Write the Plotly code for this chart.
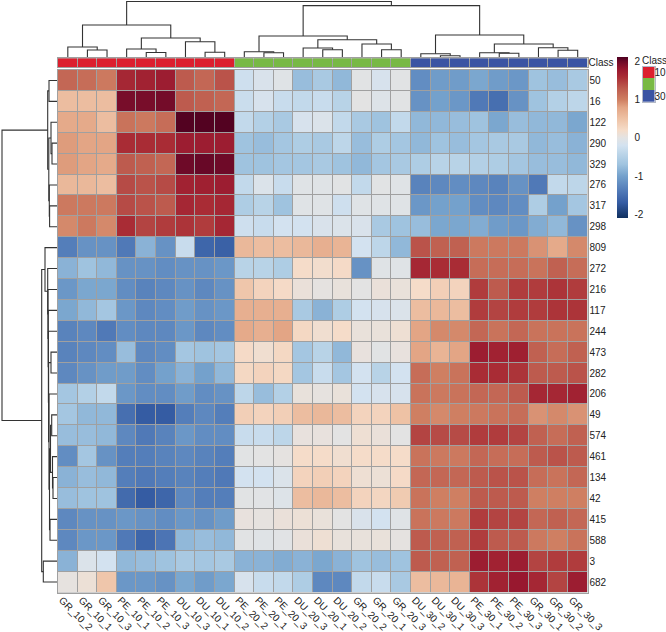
import plotly.graph_objects as go

col_labels = ["GR_10_2","GR_10_1","GR_10_3","PE_10_1","PE_10_2","PE_10_3","DU_10_3","DU_10_1","DU_10_2",
              "PE_20_2","PE_20_1","PE_20_3","DU_20_3","DU_20_1","DU_20_2","GR_20_2","GR_20_1","GR_20_3",
              "DU_30_2","DU_30_1","DU_30_3","PE_30_1","PE_30_2","PE_30_3","GR_30_1","GR_30_2","GR_30_3"]
row_labels = ["50","16","122","290","329","276","317","298","809","272","216","117","244","473","282","206",
              "49","574","461","134","42","415","588","3","682"]
class_values = [10]*9 + [20]*9 + [30]*9
legend_classes = [10, 20, 30]

row_50  = [1.2,1.15,1.05, 1.65,1.7,1.75, 1.3,1.2,1.35, -0.25,-0.12,-0.05, -0.75,-0.6,-0.8, -0.02,-0.15,-0.02, -1.2,-1.05,-1.05,-0.95,-1.05,-1.1,-0.7,-0.75,-0.6]
row_16  = [0.55,0.55,0.55, 1.95,1.95,1.97, 1.3,1.25,1.2, -0.28,-0.15,-0.3, -0.35,-0.3,-0.45, 0.0,-0.08,-0.02, -1.15,-1.0,-1.1,-1.4,-1.5,-1.15,-0.7,-0.5,-0.4]
row_122 = [0.75,0.75,0.55, 1.1,1.05,1.15, 2.1,2.1,2.1, -0.35,-0.5,-0.6, -0.15,-0.1,-0.35, -0.6,-0.7,-0.35, -0.8,-0.8,-0.75,-0.7,-0.95,-0.75,-0.8,-0.8,-0.95]
row_290 = [0.85,0.8,0.8, 1.6,1.6,1.6, 1.75,1.75,1.75, -0.7,-0.75,-0.65, -0.55,-0.6,-0.4, -0.75,-0.55,-0.65, -0.8,-0.7,-0.75,-0.65,-0.6,-0.6,-0.8,-0.75,-0.85]
row_329 = [0.85,0.8,0.75, 1.3,1.25,1.2, 2.0,2.02,2.0, -0.7,-0.7,-0.65, -0.65,-0.6,-0.7, -0.8,-0.65,-0.6, -0.55,-0.45,-0.45,-0.5,-0.55,-0.65,-0.75,-0.75,-0.8]
row_276 = [0.6,0.6,0.55, 1.4,1.35,1.4, 1.7,1.72,1.75, -0.35,-0.1,-0.3, -0.05,-0.05,-0.02, -0.35,-0.02,-0.05, -1.3,-1.25,-1.2,-1.25,-1.3,-1.15,-1.4,-0.35,-0.4]
row_317 = [1.05,1.05,1.05, 1.4,1.35,1.3, 1.65,1.6,1.65, -0.55,-0.45,-0.7, -0.05,-0.05,-0.25, -0.05,-0.05,-0.05, -1.1,-1.0,-1.0,-1.2,-1.25,-1.2,-0.55,-1.0,-0.65]
row_298 = [0.95,1.05,0.95, 1.6,1.45,1.5, 1.55,1.5,1.65, -0.25,-0.3,-0.2, -0.2,-0.12,-0.1, -0.12,-0.6,-0.7, -0.75,-0.95,-0.95,-0.9,-1.05,-1.1,-0.9,-0.8,-1.15]
row_809 = [-1.35,-1.15,-1.15, -1.4,-0.85,-1.15, -0.3,-1.6,-1.65, 0.6,0.55,0.55, 0.6,0.7,0.65, -0.2,-0.4,-0.8, 1.35,1.25,1.25,1.05,1.05,1.05,0.9,0.75,0.95]
row_272 = [-0.85,-0.7,-0.8, -1.15,-1.15,-1.2, -1.15,-1.15,-1.1, -0.45,-0.45,-0.55, 0.2,0.17,0.22, -1.15,-0.05,-0.05, 1.65,1.6,1.6,1.15,1.15,1.15,1.1,1.25,1.15]
row_216 = [-1.1,-0.95,-0.95, -1.2,-1.3,-1.25, -1.15,-1.25,-1.15, 0.45,0.3,0.22, 0.08,0.02,0.06, 0.0,0.08,0.07, 0.2,0.35,0.3,1.5,1.3,1.5,1.5,1.55,1.5]
row_117 = [-0.95,-0.8,-0.65, -1.1,-1.25,-1.2, -1.05,-1.15,-1.1, 0.7,0.7,0.7, -0.6,-0.85,-0.55, -0.2,-0.15,-0.1, 0.55,0.6,0.55,1.5,1.45,1.5,1.5,1.55,1.55]
row_244 = [-1.3,-1.25,-1.4, -1.2,-1.25,-1.25, -1.1,-1.25,-1.2, 0.75,0.7,0.8, 0.25,0.15,0.2, 0.07,0.07,0.12, 0.8,0.95,0.95,1.2,1.1,1.2,1.1,1.1,1.1]
row_473 = [-1.3,-1.25,-1.2, -0.75,-1.25,-1.2, -0.65,-0.7,-0.65, 0.22,0.15,0.25, -0.65,-0.45,-0.8, 0.05,-0.02,0.05, 0.8,0.65,0.8,1.75,1.7,1.72,1.25,1.15,1.25]
row_282 = [-1.25,-1.15,-1.05, -1.05,-1.2,-1.0, -0.85,-1.0,-0.8, 0.25,0.3,0.25, -0.65,-0.3,-0.65, -0.2,-0.45,-0.2, 1.15,1.0,1.1,1.6,1.6,1.55,1.3,1.3,1.35]
row_206 = [-0.65,-0.5,-0.35, -1.1,-1.2,-1.2, -1.05,-1.2,-1.15, -0.4,-0.75,-0.5, 0.06,0.03,0.07, -0.2,-0.15,-0.15, 1.1,1.05,1.1,1.2,1.2,1.3,1.65,1.65,1.7]
row_49  = [-0.65,-0.8,-0.8, -1.5,-1.7,-1.7, -1.35,-1.25,-1.35, 0.35,0.3,0.35, 0.55,0.6,0.55, 0.3,0.3,0.5, 1.0,0.95,1.0,1.05,1.1,1.15,0.9,0.95,0.9]
row_574 = [-0.75,-0.75,-0.8, -1.25,-1.4,-1.3, -1.1,-1.2,-1.2, -0.3,-0.3,-0.4, 0.05,0.05,0.0, 0.12,0.08,0.0, 1.45,1.4,1.4,1.5,1.5,1.45,1.25,1.15,1.25]
row_461 = [-1.2,-0.65,-1.15, -1.35,-1.35,-1.3, -1.25,-1.3,-1.35, -0.02,0.0,0.02, 0.2,0.2,0.15, 0.2,0.2,0.2, 1.1,1.05,1.05,1.2,1.15,1.15,1.3,1.35,1.3]
row_134 = [-0.85,-0.75,-0.8, -1.35,-1.4,-1.35, -1.3,-1.35,-1.4, -0.2,-0.2,-0.1, 0.3,0.35,0.3, 0.12,0.1,0.22, 1.2,1.2,1.2,1.3,1.35,1.35,1.15,1.1,1.2]
row_42  = [-0.75,-0.7,-0.7, -1.55,-1.7,-1.6, -1.25,-1.35,-1.35, -0.02,-0.03,-0.08, 0.55,0.6,0.55, 0.3,0.27,0.4, 1.1,1.0,1.0,1.3,1.3,1.3,1.0,1.0,1.0]
row_415 = [-1.25,-1.15,-1.15, -1.1,-1.15,-1.2, -1.1,-1.15,-1.05, 0.05,0.03,0.08, 0.1,0.07,0.0, -0.12,-0.2,-0.05, 1.1,1.05,1.05,1.5,1.45,1.45,1.2,1.25,1.2]
row_588 = [-1.25,-1.1,-1.1, -1.4,-1.6,-1.45, -0.8,-0.75,-0.8, -0.02,-0.05,-0.03, 0.08,0.12,0.06, 0.06,0.07,0.02, 1.3,1.25,1.25,1.5,1.3,1.3,1.05,1.0,1.1]
row_3   = [-0.85,-0.1,-0.2, -0.8,-0.75,-0.7, -0.6,-0.65,-0.6, -0.85,-0.85,-0.9, -0.85,-0.95,-0.85, -0.7,-0.75,-0.7, 1.3,1.25,1.25,1.75,1.7,1.75,1.45,1.5,1.5]
row_682 = [0.03,0.1,0.45, -1.1,-1.1,-1.15, -0.95,-1.05,-0.95, -0.15,-0.3,-0.35, -0.55,-1.25,-1.25, -0.35,-0.3,-0.6, 0.55,0.6,0.65,1.55,1.7,1.8,1.65,1.45,1.75]

matrix = [row_50,row_16,row_122,row_290,row_329,row_276,row_317,row_298,row_809,row_272,row_216,row_117,
          row_244,row_473,row_282,row_206,row_49,row_574,row_461,row_134,row_42,row_415,row_588,row_3,row_682]

# dendrograms: (merge height, left child, right child); ints are leaf positions
reds = (33, (11, 0, (8, 1, 2)),
        (20, (9, 3, (5.5, 4, 5)), (16.3, 6, (5.7, 7, 8))))
greens = (22, (6.3, 9, (5.3, 10, 11)),
          (18.3, (10, 12, (8.3, 13, 14)), (14, 15, (8.3, 16, 17))))
blues = (23, (4.3, 18, (2.3, 19, 20)),
         (14, (5.3, 21, (4.7, 22, 23)), (10.3, 24, (7.7, 25, 26))))
col_tree = (56.5, reds, (52.4, greens, blues))

top_rows = (9.3, (8, 0, 1),
            (8.2, (6, 2, (5, 3, 4)), (7.7, 5, (7.4, 6, 7))))
h_group = (6.5, (5.3, 16, 17), (4.5, 18, (4, 19, 20)))
e_group = (8, 15, (7.5, h_group, (7, 21, 22)))
d_group = (8.4, (6, 13, 14), e_group)
low_rows = (15.3,
            (12, 8, (9.3, 9, (9, 10, (8.8, 11, (8.6, 12, d_group))))),
            (13.7, 23, 24))
row_tree = (55, top_rows, low_rows)

W, H = 666, 632
TXT = "#222222"
GRID = "#a0a0a0"
FONT = "Liberation Sans"
class_scale = [[0, "#dc1f2e"], [0.5, "#78b944"], [1, "#3a53a3"]]
heat_scale_pts = [(-2.1,"#10305f"),(-1.7,"#355ca3"),(-1.4,"#5079b7"),(-1.0,"#74a1cc"),(-0.7,"#9fc3df"),
                  (-0.4,"#bdd6e9"),(-0.2,"#d3e2f0"),(0,"#e3e3e3"),(0.2,"#f5dcc9"),(0.5,"#eec2a5"),
                  (0.8,"#e3a585"),(1.0,"#cf7f62"),(1.3,"#bd5b4e"),(1.6,"#a92c35"),(1.8,"#98182f"),
                  (2.0,"#6e0a28"),(2.12,"#4d0020")]
ZMIN, ZMAX = -2.1, 2.12
heat_scale = [[(v-ZMIN)/(ZMAX-ZMIN), c] for v, c in heat_scale_pts]


def segments(node):
    """Return (position, height, pos list, height list) of a dendrogram node."""
    if isinstance(node, int):
        return node, 0, [], []
    h, a, b = node
    pa, ha, xa, ya = segments(a)
    pb, hb, xb, yb = segments(b)
    xs = xa + xb + [pa, pa, pb, pb, None]
    ys = ya + yb + [ha, h, h, hb, None]
    return (pa + pb) / 2, h, xs, ys


def dx(a, b):
    return [a / W, b / W]


def dy(top, bottom):
    return [1 - bottom / H, 1 - top / H]


fig = go.Figure()
fig.add_trace(go.Heatmap(z=matrix, x=col_labels, y=row_labels, xaxis="x", yaxis="y",
                         colorscale=heat_scale, zmin=ZMIN, zmax=ZMAX, xgap=1, ygap=1,
                         colorbar=dict(x=617.3/W, xanchor="left", xpad=0, y=1-218/H, yanchor="bottom",
                                       ypad=0, len=160.7/H, lenmode="fraction", thickness=11,
                                       thicknessmode="pixels", outlinewidth=0, ticks="outside", ticklen=5,
                                       tickcolor="rgba(0,0,0,0)", tickvals=[-2,-1,0,1,2],
                                       ticktext=["-2","-1","0","1","2"],
                                       tickfont=dict(family=FONT, size=10, color=TXT))))

_, _, cx, cy = segments(col_tree)
fig.add_trace(go.Scatter(x=cx, y=cy, mode="lines", xaxis="x2", yaxis="y2", cliponaxis=False,
                         line=dict(color="#333333", width=1.1), showlegend=False, hoverinfo="skip"))
_, _, rx, ry = segments(row_tree)
fig.add_trace(go.Scatter(x=ry, y=rx, mode="lines", xaxis="x3", yaxis="y3", cliponaxis=False,
                         line=dict(color="#333333", width=1.1), showlegend=False, hoverinfo="skip"))

fig.add_trace(go.Heatmap(z=[class_values], x=col_labels, y=["Class"], xaxis="x4", yaxis="y4",
                         colorscale=class_scale, zmin=10, zmax=30, showscale=False, xgap=1, ygap=0))
fig.add_trace(go.Heatmap(z=[[c] for c in legend_classes], x=["k"], y=[str(c) for c in legend_classes],
                         xaxis="x5", yaxis="y5", colorscale=class_scale, zmin=10, zmax=30,
                         showscale=False, xgap=0, ygap=0))

hidden = dict(showgrid=False, zeroline=False, showticklabels=False, ticks="", showline=False)
tick = dict(family=FONT, size=10, color=TXT)
box = dict(showline=True, mirror=True, linecolor=GRID, linewidth=1, showgrid=False, zeroline=False, ticks="")

fig.update_layout(
    width=W, height=H, margin=dict(l=0, r=0, t=0, b=0, autoexpand=False), paper_bgcolor="white", plot_bgcolor="white",
    showlegend=False,
    shapes=[dict(type="rect", xref=f"{a} domain", yref=f"{b} domain", x0=0, x1=1, y0=0, y1=1,
                 fillcolor=GRID, line=dict(width=0), layer="below")
            for a, b in [("x", "y"), ("x4", "y4")]],
    xaxis=dict(domain=dx(58, 587.5), side="bottom", tickangle=45, tickfont=dict(family=FONT, size=10, color=TXT),
               type="category", tickmode="array", tickvals=col_labels, ticktext=col_labels,
               ticklabelshift=-6, ticklabelstandoff=-3, **box),
    yaxis=dict(domain=dy(70, 592.5), side="right", autorange="reversed", type="category",
               tickfont=tick, anchor="x", ticklabelstandoff=-1, **box),
    xaxis2=dict(domain=dx(58, 587.5), range=[-0.5, 26.5], anchor="y2", **hidden),
    yaxis2=dict(domain=dy(0, 58), range=[0, 58], anchor="x2", **hidden),
    xaxis3=dict(domain=dx(0, 57), range=[57, 0], anchor="y3", **hidden),
    yaxis3=dict(domain=dy(70, 592.5), range=[24.5, -0.5], anchor="x3", **hidden),
    xaxis4=dict(domain=dx(58, 587.5), anchor="y4", type="category", showticklabels=False, **box),
    yaxis4=dict(domain=dy(58.3, 67.3), anchor="x4", side="right", type="category", tickfont=tick,
                ticklabelstandoff=-2, **box),
    xaxis5=dict(domain=dx(643, 654.5), anchor="y5", type="category", showticklabels=False,
                showline=True, mirror=True, linecolor="#b4b9c6", linewidth=1, showgrid=False, zeroline=False, ticks=""),
    yaxis5=dict(domain=dy(66.7, 102), anchor="x5", side="right", type="category", autorange="reversed",
                tickfont=tick, ticklabelstandoff=-3, showline=True, mirror=True, linecolor="#b4b9c6", linewidth=1,
                showgrid=False, zeroline=False, ticks=""),
    annotations=[dict(text="Class", x=639.5/W, y=1-60/H, xref="paper", yref="paper", xanchor="left",
                      yanchor="middle", showarrow=False, font=tick)],
)

fig.write_html("out.html", config=dict(displayModeBar=False),
               post_script="document.body.style.margin='0';")
